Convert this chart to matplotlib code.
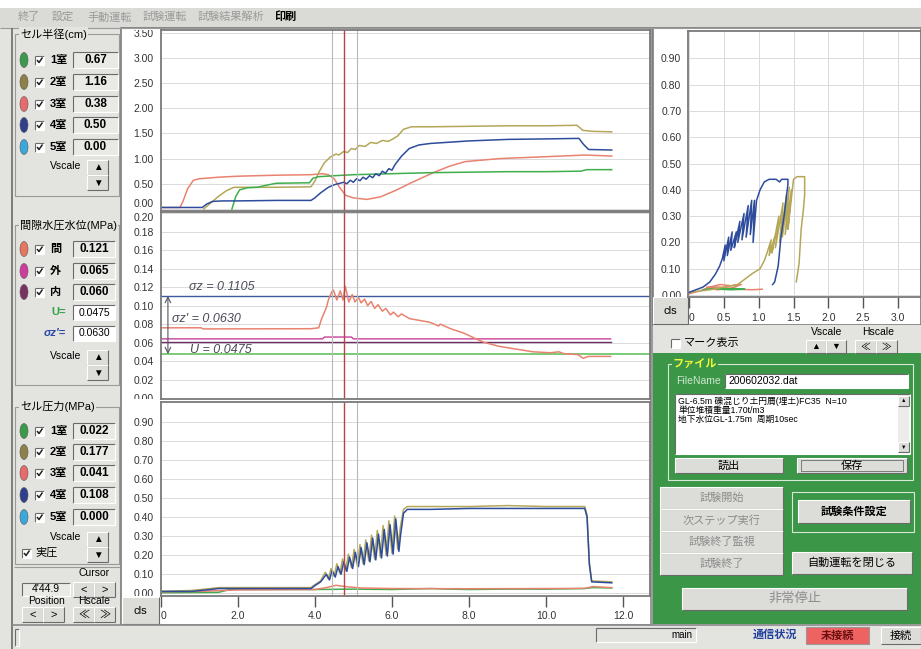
import matplotlib
matplotlib.use("Agg")
import matplotlib.pyplot as plt
from matplotlib.patches import Rectangle, Ellipse
from matplotlib.transforms import Bbox, TransformedBbox

# ---- values read off the screen capture ----
# top chart: cell radius (cm) against time (min)
t_r_red = [0.0, 0.50, 0.58, 0.70, 0.85, 1.00, 1.50, 2.00, 3.00, 3.90, 4.20, 4.35, 4.50, 4.65,
           4.80, 5.00, 5.35, 5.70, 6.10, 6.50, 7.07, 7.50, 7.90, 8.80, 10.10, 11.00, 11.70]
r_red = [0.03, 0.03, 0.15, 0.40, 0.57, 0.60, 0.63, 0.65, 0.67, 0.68, 0.70, 0.68, 0.60, 0.42,
         0.27, 0.22, 0.19, 0.24, 0.37, 0.52, 0.72, 0.85, 0.94, 1.00, 1.04, 1.07, 1.05]
t_r_olive = [1.12, 1.30, 1.50, 1.70, 1.90, 2.50, 3.00, 3.90, 4.00, 4.12, 4.25, 4.40, 4.55, 4.62,
             4.75, 4.85, 4.95, 5.05, 5.15, 5.30, 5.45, 5.60, 5.75, 5.90, 6.05, 6.15, 6.30, 6.50,
             7.00, 8.00, 9.00, 10.00, 10.80, 10.95, 11.20, 11.70]
r_olive = [0.00, 0.12, 0.25, 0.36, 0.43, 0.43, 0.43, 0.44, 0.55, 0.75, 0.92, 1.03, 1.09, 1.07,
           1.14, 1.12, 1.20, 1.18, 1.26, 1.24, 1.32, 1.30, 1.36, 1.34, 1.40, 1.45, 1.58, 1.63,
           1.63, 1.64, 1.65, 1.65, 1.66, 1.56, 1.54, 1.53]
t_r_green = [1.85, 1.95, 2.05, 2.25, 2.50, 2.80, 3.00, 3.86, 3.95, 4.10, 4.50, 5.00, 6.00, 7.00,
             8.00, 9.00, 10.00, 10.90, 11.05, 11.70]
r_green = [0.00, 0.25, 0.38, 0.42, 0.43, 0.48, 0.51, 0.52, 0.61, 0.64, 0.66, 0.68, 0.70, 0.72,
           0.73, 0.74, 0.74, 0.75, 0.78, 0.78]
t_r_blue = [0.0, 1.08, 1.20, 1.35, 1.60, 2.00, 3.00, 3.90, 4.00, 4.15, 4.35, 4.50, 4.75, 4.83,
            4.92, 5.00, 5.08, 5.17, 5.25, 5.33, 5.42, 5.50, 5.58, 5.67, 5.75, 5.83, 5.92, 6.00,
            6.08, 6.25, 6.45, 6.70, 7.00, 8.00, 9.00, 10.00, 10.85, 10.97, 11.10, 11.70]
r_blue = [0.03, 0.03, 0.10, 0.15, 0.16, 0.16, 0.17, 0.17, 0.22, 0.32, 0.43, 0.48, 0.53, 0.50,
          0.57, 0.53, 0.60, 0.56, 0.63, 0.59, 0.66, 0.62, 0.70, 0.66, 0.75, 0.71, 0.80, 0.77,
          0.88, 1.05, 1.20, 1.27, 1.30, 1.35, 1.38, 1.39, 1.40, 1.28, 1.18, 1.17]

# middle chart: pore water pressure (MPa)
t_pw = [0.0, 1.05, 1.10, 3.90, 4.10, 4.17, 4.30, 4.35, 4.44, 4.48, 4.57, 4.66, 4.73, 4.79,
        4.88, 4.97, 5.04, 5.13, 5.20, 5.29, 5.37, 5.46, 5.55, 5.64, 5.75, 5.84, 5.96, 6.04,
        6.16, 6.25, 6.45, 6.98, 7.21, 7.25, 7.52, 7.88, 8.23, 8.41, 8.77, 9.21, 9.66, 10.11,
        10.33, 10.46, 10.82, 10.96, 11.09, 11.67]
pw = [0.0760, 0.0760, 0.0748, 0.0750, 0.0760, 0.0850, 0.0980, 0.1060, 0.1150, 0.1170, 0.1060,
      0.1160, 0.1060, 0.1210, 0.1040, 0.1120, 0.1040, 0.1090, 0.1030, 0.1070, 0.1000, 0.1045,
      0.0970, 0.1010, 0.0940, 0.0970, 0.0900, 0.0930, 0.0880, 0.0910, 0.0860, 0.0820, 0.0780,
      0.0800, 0.0750, 0.0700, 0.0630, 0.0600, 0.0560, 0.0530, 0.0500, 0.0490, 0.0500, 0.0480,
      0.0470, 0.0430, 0.0450, 0.0450]
t_out = [0.0, 4.20, 4.25, 4.95, 5.00, 11.67]
p_out = [0.0640, 0.0640, 0.0660, 0.0660, 0.0640, 0.0640]
t_in = [0.0, 11.67]
p_in = [0.0605, 0.0605]
sigma_z = 0.1105
u_level = 0.0475

# bottom chart: cell pressure (MPa)
t_cp_blue = [0.0, 0.80, 1.30, 1.50, 3.90, 4.00, 4.15, 4.30, 4.38, 4.45, 4.53, 4.60, 4.68, 4.75,
             4.83, 4.90, 4.98, 5.05, 5.13, 5.20, 5.28, 5.35, 5.43, 5.50, 5.58, 5.65, 5.73, 5.80,
             5.88, 5.95, 6.03, 6.10, 6.18, 6.22, 6.30, 6.40, 7.00, 8.00, 9.00, 10.00, 11.00,
             11.06, 11.12, 11.18, 11.70]
cp_blue = [0.010, 0.010, 0.020, 0.025, 0.025, 0.040, 0.060, 0.100, 0.070, 0.120, 0.085, 0.140,
           0.100, 0.165, 0.115, 0.190, 0.130, 0.215, 0.140, 0.240, 0.150, 0.265, 0.165, 0.290,
           0.175, 0.310, 0.185, 0.335, 0.195, 0.360, 0.205, 0.390, 0.220, 0.300, 0.420, 0.440,
           0.440, 0.445, 0.445, 0.445, 0.445, 0.400, 0.150, 0.060, 0.055]
t_cp_olive = [0.0, 0.80, 1.30, 1.50, 3.90, 4.00, 4.15, 4.27, 4.35, 4.42, 4.50, 4.57, 4.65, 4.72,
              4.80, 4.87, 4.95, 5.02, 5.10, 5.17, 5.25, 5.32, 5.40, 5.47, 5.55, 5.62, 5.70, 5.77,
              5.85, 5.92, 6.00, 6.07, 6.15, 6.22, 6.30, 6.40, 7.00, 8.00, 9.00, 10.00, 11.00,
              11.06, 11.12, 11.18, 11.70]
cp_olive = [0.010, 0.015, 0.025, 0.030, 0.030, 0.045, 0.065, 0.110, 0.075, 0.130, 0.090, 0.155,
            0.105, 0.180, 0.120, 0.205, 0.135, 0.230, 0.145, 0.255, 0.155, 0.280, 0.170, 0.305,
            0.180, 0.330, 0.190, 0.355, 0.200, 0.380, 0.210, 0.405, 0.230, 0.350, 0.440, 0.455,
            0.455, 0.455, 0.460, 0.455, 0.455, 0.410, 0.160, 0.065, 0.060]
t_cp_green = [0.0, 1.50, 1.80, 4.00, 5.00, 6.00, 7.00, 7.50, 8.00, 9.00, 10.00, 11.00, 11.20, 11.70]
cp_green = [0.003, 0.005, 0.020, 0.020, 0.022, 0.020, 0.025, 0.022, 0.020, 0.022, 0.022, 0.025,
            0.030, 0.028]
t_cp_red = [0.0, 1.00, 2.00, 4.00, 4.30, 4.55, 4.80, 5.20, 6.00, 8.00, 10.00, 11.00, 11.20, 11.70]
cp_red = [0.008, 0.010, 0.018, 0.020, 0.030, 0.042, 0.035, 0.028, 0.025, 0.024, 0.025, 0.026,
          0.035, 0.030]

# right chart: cell pressure (MPa) against radius (cm)
x_blue = [0.00, 0.10, 0.20, 0.30, 0.38, 0.44, 0.48, 0.52, 0.50, 0.57, 0.55, 0.62, 0.60, 0.68,
          0.65, 0.73, 0.70, 0.79, 0.76, 0.85, 0.82, 0.90, 0.88, 0.94, 0.92, 0.96, 0.97, 1.02,
          1.08, 1.15, 1.25, 1.30, 1.33, 1.38, 1.42, 1.42, 1.40, 1.37, 1.32, 1.28, 1.23, 1.20]
y_blue = [0.01, 0.02, 0.03, 0.05, 0.08, 0.11, 0.14, 0.19, 0.13, 0.22, 0.15, 0.24, 0.17, 0.24,
          0.18, 0.28, 0.20, 0.31, 0.21, 0.34, 0.22, 0.36, 0.23, 0.36, 0.20, 0.33, 0.36, 0.40,
          0.43, 0.44, 0.44, 0.43, 0.44, 0.44, 0.44, 0.42, 0.38, 0.31, 0.22, 0.11, 0.05, 0.04]
x_olive = [0.00, 0.30, 0.50, 0.70, 0.90, 1.02, 1.08, 1.12, 1.18, 1.15, 1.23, 1.19, 1.29, 1.24,
           1.35, 1.30, 1.40, 1.34, 1.44, 1.38, 1.47, 1.42, 1.50, 1.55, 1.62, 1.66, 1.66, 1.64,
           1.61, 1.58, 1.54]
y_olive = [0.01, 0.02, 0.03, 0.04, 0.08, 0.10, 0.13, 0.16, 0.21, 0.15, 0.22, 0.16, 0.30, 0.18,
           0.35, 0.20, 0.38, 0.22, 0.41, 0.23, 0.40, 0.25, 0.44, 0.45, 0.45, 0.45, 0.38, 0.32,
           0.25, 0.12, 0.05]
x_red = [0.00, 0.15, 0.30, 0.45, 0.60, 0.75, 0.60, 0.40, 0.25, 0.45, 0.70, 0.90, 1.05]
y_red = [0.005, 0.015, 0.030, 0.040, 0.035, 0.040, 0.025, 0.020, 0.030, 0.030, 0.022, 0.020, 0.022]
x_green = [0.20, 0.35, 0.50, 0.65, 0.80, 0.60, 0.45]
y_green = [0.020, 0.025, 0.022, 0.025, 0.022, 0.020, 0.022]

cursor_t = 4.75
marker_t = [4.44, 5.09]

time_ticks = [0, 2, 4, 6, 8, 10, 12]
time_labels = ['0', '2.0', '4.0', '6.0', '8.0', '10.0', '12.0']
rad_ticks = [0.0, 0.5, 1.0, 1.5, 2.0, 2.5, 3.0, 3.5]
rad_labels = ['0.00', '0.50', '1.00', '1.50', '2.00', '2.50', '3.00', '3.50']
pw_ticks = [0.00, 0.02, 0.04, 0.06, 0.08, 0.10, 0.12, 0.14, 0.16, 0.18, 0.20]
pw_labels = ['0.00', '0.02', '0.04', '0.06', '0.08', '0.10', '0.12', '0.14', '0.16', '0.18', '0.20']
cp_ticks = [0.0, 0.1, 0.2, 0.3, 0.4, 0.5, 0.6, 0.7, 0.8, 0.9]
cp_labels = ['0.00', '0.10', '0.20', '0.30', '0.40', '0.50', '0.60', '0.70', '0.80', '0.90']
xy_ticks = [0.0, 0.5, 1.0, 1.5, 2.0, 2.5, 3.0]
xy_labels = ['0', '0.5', '1.0', '1.5', '2.0', '2.5', '3.0']

# left panel readouts
room_names = ['1室', '2室', '3室', '4室', '5室']
room_colors = ['#3a9a4a', '#8f8048', '#e86a6a', '#2e3f8e', '#3aa8dc']
radius_values = ['0.67', '1.16', '0.38', '0.50', '0.00']
pore_names = ['間', '外', '内']
pore_colors = ['#e8765f', '#d03c9c', '#7a3060']
pore_values = ['0.121', '0.065', '0.060']
cell_values = ['0.022', '0.177', '0.041', '0.108', '0.000']
menu_items = ['終了', '設定', '手動運転', '試験運転', '試験結果解析', '印刷']
memo_lines = ['GL-6.5m 礫混じり土円屑(埋土)FC35  N=10', '単位堆積重量1.70t/m3',
              '地下水位GL-1.75m  周期10sec']

W, H = 921, 649
plt.rcParams['font.family'] = ['Liberation Sans', 'Noto Sans CJK JP', 'DejaVu Sans']

GREEN = '#3fae4c'
OLIVE = '#b4a758'
SALMON = '#ea8270'
BLUE = '#2d4c9c'
PANEL = '#e3e3df'
BTN = '#dcdcd8'
FIELD = '#e9e9e5'
DARK = '#6a6a6a'
GREY_TXT = '#8c8c8c'

fig = plt.figure(figsize=(W / 100, H / 100), dpi=100, facecolor=PANEL)

bg = fig.add_axes([0, 0, 1, 1])
bg.set_xlim(0, W)
bg.set_ylim(H, 0)
bg.set_autoscale_on(False)
bg.axis('off')


def rect(x, y, w, h, fc, ec='none', lw=0.8, z=1):
    bg.add_patch(Rectangle((x, y), w, h, fc=fc, ec=ec, lw=lw, zorder=z))


def line(xs, ys, c, lw=0.8, z=2):
    bg.plot(xs, ys, color=c, lw=lw, zorder=z, solid_capstyle='butt')


def text(x, y, s, size=8, color='black', ha='left', weight='normal', va='center', **kw):
    bg.text(x, y, s, fontsize=size, color=color, ha=ha, va=va,
            fontweight=weight, zorder=5, **kw)


def raised(x, y, w, h, label='', size=8, color='black', weight='normal', fc=BTN):
    rect(x, y, w, h, fc)
    line([x, x + w], [y, y], 'white')
    line([x, x], [y, y + h], 'white')
    line([x, x + w], [y + h, y + h], DARK)
    line([x + w, x + w], [y, y + h], DARK)
    if label:
        text(x + w / 2, y + h / 2, label, size=size, color=color, ha='center', weight=weight)


def sunken(x, y, w, h, label='', fc=FIELD, size=8, weight='normal', color='black', ha='center'):
    rect(x, y, w, h, fc)
    line([x, x + w], [y, y], DARK)
    line([x, x], [y, y + h], DARK)
    line([x, x + w], [y + h, y + h], 'white')
    line([x + w, x + w], [y, y + h], 'white')
    if label:
        tx = x + w / 2 if ha == 'center' else x + 3
        text(tx, y + h / 2, label, size=size, ha=ha, weight=weight, color=color)


def checkbox(x, y, checked=True):
    sunken(x, y - 4.5, 9, 9, fc='white')
    if checked:
        line([x + 2, x + 4, x + 7.5], [y, y + 2.5, y - 2.5], '#202020', lw=1.1, z=4)


def group(x, y, w, h, title, tcolor='black', ec='#9a9a9a', fc=PANEL, weight='normal'):
    rect(x, y, w, h, 'none', ec=ec)
    text(x + 5, y, title, size=8, color=tcolor, weight=weight,
         bbox=dict(fc=fc, ec='none', pad=0.6))


# ---- window chrome ----
rect(0, 0, W, 8, 'white')
rect(0, 8, W, 20, '#dadad6')
line([0, W], [28, 28], '#9a9a9a')
menu_x = [18, 52, 87, 143, 198, 275]
for mx, item in zip(menu_x, menu_items):
    last = item == menu_items[-1]
    text(mx, 17, item, size=8, color='black' if last else '#9a9a9a',
         weight='bold' if last else 'normal')

rect(12, 28, 110, 598, PANEL)
line([12, 12], [28, H], '#6a6a6a', lw=1.2)

# group: cell radius
group(15, 34, 104, 162, 'セル半径(cm)')
for y, name, col, val in zip([60, 82, 104, 125, 147], room_names, room_colors, radius_values):
    bg.add_patch(Ellipse((24, y), 8, 15, fc=col, ec='#555555', lw=0.4, zorder=3))
    checkbox(35, y)
    text(50, y, name, weight='bold')
    sunken(73, y - 8, 45, 16, val, weight='bold', size=8.5)
text(66, 166, 'Vscale', ha='center', size=7.5)
raised(87, 160, 21, 15, '▲', size=7)
raised(87, 175, 21, 15, '▼', size=7)

# group: pore water pressure
group(15, 225, 104, 160, '間隙水圧水位(MPa)')
for y, name, col, val in zip([249, 271, 292], pore_names, pore_colors, pore_values):
    bg.add_patch(Ellipse((24, y), 8, 15, fc=col, ec='#555555', lw=0.4, zorder=3))
    checkbox(35, y)
    text(50, y, name, weight='bold')
    sunken(73, y - 8, 42, 16, val, weight='bold', size=8.5)
text(66, 312, 'U=', color='#34a046', ha='right', weight='bold')
sunken(73, 305, 42, 15, '0.0475', fc='white', size=7.5)
text(66, 333, "σz'=", color='#2a4aa8', ha='right', weight='bold', style='italic')
sunken(73, 326, 42, 15, '0.0630', fc='white', size=7.5)
text(66, 356, 'Vscale', ha='center', size=7.5)
raised(87, 350, 21, 15, '▲', size=7)
raised(87, 365, 21, 15, '▼', size=7)

# group: cell pressure
group(15, 407, 104, 157, 'セル圧力(MPa)')
for y, name, col, val in zip([431, 452, 473, 495, 517], room_names, room_colors, cell_values):
    bg.add_patch(Ellipse((24, y), 8, 15, fc=col, ec='#555555', lw=0.4, zorder=3))
    checkbox(35, y)
    text(50, y, name, weight='bold')
    sunken(73, y - 8, 42, 16, val, weight='bold', size=8.5)
text(66, 537, 'Vscale', ha='center', size=7.5)
raised(87, 532, 21, 15, '▲', size=7)
raised(87, 547, 21, 15, '▼', size=7)
checkbox(22, 553)
text(35, 553, '実圧')

line([14, 120], [567, 567], '#9a9a9a')
text(94, 573, 'Cursor', size=7.5, ha='center')
sunken(22, 583, 48, 13, "4'44.9", size=7.5)
raised(73, 582, 21, 15, '<')
raised(94, 582, 21, 15, '>')
text(46, 601, 'Position', ha='center', size=7.5)
text(94, 601, 'Hscale', ha='center', size=7.5)
raised(22, 607, 21, 15, '<')
raised(43, 607, 21, 15, '>')
raised(73, 607, 21, 15, '≪')
raised(94, 607, 21, 15, '≫')

# chart frames
rect(121, 28, 531, 597, 'white', ec='#7a7a7a', lw=1.2)
raised(122, 597, 37, 27, 'cls')
rect(650, 28, 3, 597, '#9a9a9a')
rect(653, 28, 268, 297, 'white', ec='#7a7a7a', lw=1.2)
raised(653, 297, 35, 27, 'cls')

# mark / scale strip
rect(653, 325, 268, 28, PANEL)
checkbox(671, 343, checked=False)
text(684, 343, 'マーク表示')
text(827, 332, 'Vscale', size=7.5, ha='center')
text(878, 332, 'Hscale', size=7.5, ha='center')
raised(806, 340, 20, 13, '▲', size=6.5)
raised(826, 340, 20, 13, '▼', size=6.5)
raised(855, 340, 21, 13, '≪', size=7)
raised(876, 340, 21, 13, '≫', size=7)

# green control panel
GP = '#3b9648'
rect(653, 353, 268, 271, GP)
group(668, 364, 245, 116, 'ファイル', tcolor='#f4f43c', ec='#d6ead6', fc=GP, weight='bold')
text(676, 381, 'FileName', color='#cfe8cf', size=7.5)
sunken(725, 374, 183, 14, '200602032.dat', fc='white', ha='left', size=7.5)
sunken(675, 394, 235, 60, fc='white')
for i, s in enumerate(memo_lines):
    text(678, 397 + 9 * i, s, size=6.3, va='top')
rect(898, 395, 11, 58, '#ececea')
raised(898, 396, 11, 10, '▲', size=4)
raised(898, 442, 11, 10, '▼', size=4)
raised(675, 458, 108, 15, '読出')
raised(797, 458, 110, 15, '保存')
rect(801, 460, 102, 11, 'none', ec='#555555', lw=0.5, z=3)

for i, s in enumerate(['試験開始', '次ステップ実行', '試験終了監視', '試験終了']):
    raised(660, 487 + 22 * i, 123, 22, s, color=GREY_TXT)
rect(792, 492, 122, 40, 'none', ec='#d6ead6')
raised(798, 500, 112, 23, '試験条件設定', weight='bold')
raised(792, 552, 120, 22, '自動運転を閉じる')
raised(682, 588, 225, 22, '非常停止', color=GREY_TXT, size=9.5)

# status bar
rect(12, 625, 909, 24, PANEL)
line([12, W], [625, 625], '#8a8a8a', lw=1.2)
sunken(15, 629, 4, 17, fc=PANEL)
sunken(596, 628, 100, 14, fc=PANEL)
text(692, 635, 'main', size=7, ha='right')
text(775, 635, '通信状況', color='#1f3f9f', weight='bold', ha='center')
rect(806, 627, 63, 17, '#ee6262', ec='#999999')
text(837, 636, '未接続', color='#6a1010', ha='center', weight='bold')
raised(881, 627, 40, 17, '接続')


# ---- charts ----
def px_axes(x0, y0, x1, y1):
    return fig.add_axes([x0 / W, 1 - y1 / H, (x1 - x0) / W, (y1 - y0) / H])


def style(ax, yticks, ylabels, ylim, xgrid=False):
    ax.set_facecolor('white')
    ax.set_ylim(ylim)
    ax.set_yticks(yticks)
    ax.set_yticklabels(ylabels)
    ax.tick_params(axis='y', length=0, pad=5, labelsize=7.5, labelcolor='#333333')
    ax.grid(axis='y', color='#dadada', lw=0.7)
    if xgrid:
        ax.grid(axis='x', color='#dadada', lw=0.7)
    for s in ax.spines.values():
        s.set_color('#7a7a7a')
        s.set_linewidth(1.3)
    # labels sitting on a chart edge are cut off like on the screen
    clip = TransformedBbox(Bbox([[-1, 0], [1, 1]]), ax.transAxes)
    for lab in ax.get_yticklabels():
        lab.set_clip_box(clip)
        lab.set_clip_on(True)


ax_top = px_axes(160.6, 29.5, 650.3, 211)
ax_mid = px_axes(160.6, 212, 650.3, 399)
ax_bot = px_axes(160.6, 401.7, 650.3, 596)
ax_xy = px_axes(688.3, 31, 921, 297.3)

style(ax_top, rad_ticks, rad_labels, (-0.04, 3.56))
style(ax_mid, pw_ticks, pw_labels, (-0.0011, 0.2014))
style(ax_bot, cp_ticks, cp_labels, (-0.0141, 1.0047))
style(ax_xy, cp_ticks, cp_labels, (-0.0087, 1.004), xgrid=True)
# keep the two labels at the top/middle seam apart
ax_top.get_yticklabels()[0].set_va('bottom')
ax_mid.get_yticklabels()[-1].set_va('top')

lw = 1.1
ax_top.plot(t_r_red, r_red, color=SALMON, lw=lw)
ax_top.plot(t_r_olive, r_olive, color=OLIVE, lw=lw)
ax_top.plot(t_r_green, r_green, color=GREEN, lw=lw)
ax_top.plot(t_r_blue, r_blue, color=BLUE, lw=lw)

ax_mid.axhline(sigma_z, color='#3d5c9e', lw=1.0)
ax_mid.axhline(u_level, color='#62c262', lw=1.2)
ax_mid.plot(t_out, p_out, color='#c8409a', lw=1.0)
ax_mid.plot(t_in, p_in, color='#6e2e64', lw=1.0)
ax_mid.plot(t_pw, pw, color=SALMON, lw=lw)

hand = dict(fontsize=9, style='italic', color='#4a4a5a', va='center')
ax_mid.text(0.74, 0.1205, 'σz = 0.1105', **hand)
ax_mid.text(0.30, 0.0855, "σz' = 0.0630", **hand)
ax_mid.text(0.76, 0.0515, 'U = 0.0475', **hand)
ax_mid.annotate('', xy=(0.19, u_level), xytext=(0.19, sigma_z),
                arrowprops=dict(arrowstyle='<->', color='#555560', lw=0.8,
                                shrinkA=0, shrinkB=0))

ax_bot.plot(t_cp_green, cp_green, color=GREEN, lw=lw)
ax_bot.plot(t_cp_red, cp_red, color=SALMON, lw=lw)
ax_bot.plot(t_cp_olive, cp_olive, color=OLIVE, lw=lw)
ax_bot.plot(t_cp_blue, cp_blue, color=BLUE, lw=lw)

for ax in (ax_top, ax_mid, ax_bot):
    ax.set_xlim(0, 12.70)
    for t in marker_t:
        ax.axvline(t, color='#b8b8b8', lw=0.8)
    ax.axvline(cursor_t, color='#b04848', lw=1.0)
for ax in (ax_top, ax_mid):
    ax.set_xticks([])

ax_bot.set_xticks(time_ticks)
ax_bot.set_xticklabels(time_labels)
ax_bot.tick_params(axis='x', direction='out', length=8, width=1, color='#555555',
                   pad=3, labelsize=7.5, labelcolor='#333333')
ax_bot.get_xticklabels()[0].set_ha('left')

ax_xy.plot(x_red, y_red, color=SALMON, lw=lw)
ax_xy.plot(x_green, y_green, color=GREEN, lw=lw)
ax_xy.plot(x_olive, y_olive, color=OLIVE, lw=lw)
ax_xy.plot(x_blue, y_blue, color=BLUE, lw=lw)
ax_xy.set_xlim(-0.01, 3.33)
ax_xy.set_xticks(xy_ticks)
ax_xy.set_xticklabels(xy_labels)
ax_xy.tick_params(axis='x', direction='out', length=8, width=1, color='#555555',
                  pad=3, labelsize=7.5, labelcolor='#333333')
ax_xy.get_xticklabels()[0].set_ha('left')

fig.savefig('out.png', dpi=100, facecolor=fig.get_facecolor())
